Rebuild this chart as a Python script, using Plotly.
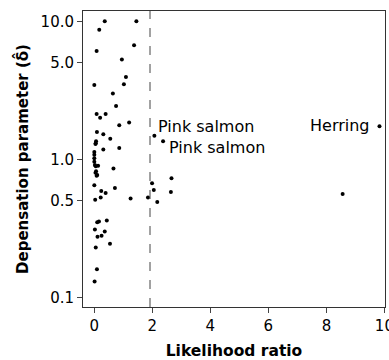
import math
import plotly.graph_objects as go

# Likelihood ratio (x) and depensation parameter (y) for each stock
lr = [0.36, 1.45, 0.17, 1.37, 0.08, 0.95, 1.09, 1.02, 0.0, 0.64, 0.75, 0.08, 0.2, 0.39,
      0.86, 1.2, 0.09, 0.31, 0.55, 0.06, 0.05, 0.04, 0.31, 0.86,
      0.0, 0.0, 0.0, 0.0, 0.02, 0.05, 0.13, 0.66, 0.06, 0.04, 0.1, 0.08,
      0.0, 0.24, 0.39, 0.71, 0.22, 0.03, 1.25,
      1.85, 1.99, 2.05, 2.17, 2.66, 2.64,
      0.1, 0.16, 0.43, 0.02, 0.36, 0.11, 0.25, 0.54, 0.05, 0.09, 0.01,
      2.07, 2.37, 9.83, 8.56]
delta = [10.0, 10.0, 8.7, 6.7, 6.1, 5.3, 3.95, 3.5, 3.46, 3.0, 2.44, 2.13, 2.0, 2.13,
         1.77, 1.85, 1.58, 1.52, 1.41, 1.35, 1.31, 1.29, 1.18, 1.21,
         1.13, 1.08, 1.02, 0.96, 0.91, 0.89, 0.9, 0.86, 0.82, 0.80, 0.77, 0.76,
         0.65, 0.59, 0.57, 0.62, 0.53, 0.51, 0.52,
         0.53, 0.67, 0.60, 0.49, 0.73, 0.58,
         0.35, 0.355, 0.36, 0.31, 0.30, 0.275, 0.28, 0.245, 0.23, 0.16, 0.13,
         1.48, 1.35, 1.74, 0.56]

labels = ["Pink salmon", "Pink salmon", "Herring"]
label_x = [2.13, 2.49, 9.56]
label_y = [1.74, 1.22, 1.76]
label_anchor = ["left", "left", "right"]

y_ticks = [0.1, 0.5, 1.0, 5.0, 10.0]
y_ticktext = ["0.1", "0.5", "1.0", "5.0", "10.0"]
x_ticks = [0, 2, 4, 6, 8, 10]
crit = 1.92

font = "DejaVu Sans, Arial, sans-serif"

fig = go.Figure()
fig.add_trace(go.Scatter(x=lr, y=delta, mode="markers",
                         marker=dict(color="black", size=4), showlegend=False))

fig.add_shape(type="line", xref="x", yref="paper", x0=crit, x1=crit, y0=0, y1=1,
              line=dict(color="#444", width=1, dash="dash"))
fig.add_shape(type="line", xref="paper", yref="y", x0=0, x1=1, y0=0, y1=0,
              line=dict(color="#555", width=1, dash="dot"))

for t, x, y, a in zip(labels, label_x, label_y, label_anchor):
    fig.add_annotation(x=x, y=math.log10(y), yref="y", text=t, showarrow=False, xanchor=a,
                       yanchor="middle", font=dict(size=16, color="black", family=font))

fig.update_layout(
    width=389, height=360,
    margin=dict(l=83, r=4, t=11, b=53),
    plot_bgcolor="white", paper_bgcolor="white",
    font=dict(family=font, color="black", size=15),
    xaxis=dict(range=[-0.39, 10.02], tickvals=x_ticks, ticks="outside", ticklen=5,
               ticklabeloverflow="allow", automargin=False,
               showline=True, mirror=True, linecolor="#333", linewidth=1,
               showgrid=False, zeroline=False,
               title=dict(text="<b>Likelihood ratio</b>", font=dict(size=15.5), standoff=18)),
    yaxis=dict(type="log", range=[-1.07, 1.075], tickvals=y_ticks, ticktext=y_ticktext,
               ticks="outside", ticklen=5, showline=True, mirror=True, linecolor="#333",
               linewidth=1, showgrid=False, zeroline=False, automargin=False,
               title=dict(text="<b>Depensation parameter (δ\u0302)</b>", font=dict(size=15), standoff=8)),
)

fig.write_html("out.html")
